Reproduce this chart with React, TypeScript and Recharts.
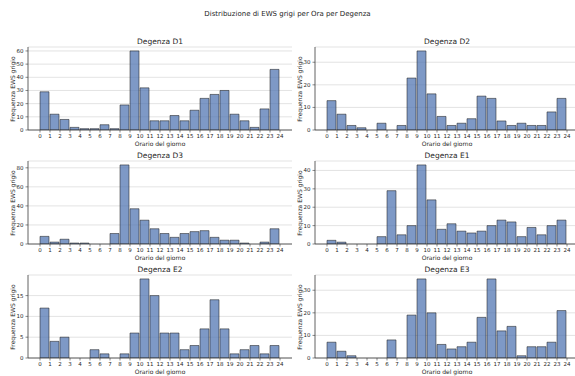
import React from "react";
import { BarChart, Bar, XAxis, YAxis, CartesianGrid } from "recharts";

const hourBins = [0, 1, 2, 3, 4, 5, 6, 7, 8, 9, 10, 11, 12, 13, 14, 15, 16, 17, 18, 19, 20, 21, 22, 23];
const hourTicks = [0, 1, 2, 3, 4, 5, 6, 7, 8, 9, 10, 11, 12, 13, 14, 15, 16, 17, 18, 19, 20, 21, 22, 23, 24];

const d1 = [29, 12, 8, 2, 1, 1, 4, 1, 19, 60, 32, 7, 7, 11, 7, 15, 24, 27, 30, 12, 7, 2, 16, 46];
const d2 = [13, 7, 2, 1, 0, 3, 0, 2, 23, 35, 16, 6, 2, 3, 5, 15, 14, 4, 2, 3, 2, 2, 8, 14];
const d3 = [8, 2, 5, 1, 1, 0, 0, 11, 83, 37, 25, 16, 11, 7, 11, 13, 14, 7, 4, 4, 1, 0, 2, 16];
const e1 = [2, 1, 0, 0, 0, 4, 29, 5, 10, 43, 24, 8, 11, 7, 6, 7, 10, 13, 12, 4, 9, 5, 10, 13];
const e2 = [12, 4, 5, 0, 0, 2, 1, 0, 1, 6, 19, 15, 6, 6, 2, 3, 7, 14, 7, 1, 2, 3, 1, 3];
const e3 = [7, 3, 1, 0, 0, 0, 8, 0, 19, 35, 20, 6, 4, 5, 7, 18, 35, 12, 14, 1, 5, 5, 7, 21];

const ticksD1 = [0, 10, 20, 30, 40, 50, 60];
const ticksD2 = [0, 10, 20, 30];
const ticksD3 = [0, 20, 40, 60, 80];
const ticksE1 = [0, 10, 20, 30, 40];
const ticksE2 = [0, 5, 10, 15];
const ticksE3 = [0, 10, 20, 30];

const FONT = "'DejaVu Sans', sans-serif";
const TXT = "#262626";
const FRAME = "#3a3a3a";

const PLOT_W = 264;
const PLOT_H = 83;
const Y_W = 28;
const TOP_M = 13;
const X_H = 18;

function Panel({
  title,
  values,
  yTicks,
  left,
  top,
}: {
  title: string;
  values: number[];
  yTicks: number[];
  left: number;
  top: number;
}) {
  const data = hourBins.map((h, i) => ({ x: h + 0.5, v: values[i] }));
  const w = Y_W + PLOT_W + 1;
  const h = TOP_M + PLOT_H + X_H;
  return (
    <div style={{ position: "absolute", left, top, width: w, height: h }}>
      <div
        style={{
          position: "absolute",
          left: Y_W,
          top: 3,
          width: PLOT_W,
          textAlign: "center",
          fontSize: 7.5,
          color: TXT,
          fontFamily: FONT,
          lineHeight: "9px",
        }}
      >
        {title}
      </div>
      {/* y label, rotated, centred on the plot area */}
      <div
        style={{
          position: "absolute",
          left: 12 - PLOT_H / 2,
          top: TOP_M + PLOT_H / 2 - 4,
          width: PLOT_H,
          height: 8,
          lineHeight: "8px",
          textAlign: "center",
          fontSize: 6,
          color: TXT,
          fontFamily: FONT,
          transform: "rotate(-90deg)",
          whiteSpace: "nowrap",
        }}
      >
        Frequenza EWS grigio
      </div>
      <BarChart
        width={w}
        height={h}
        data={data}
        margin={{ top: TOP_M, right: 1, bottom: 0, left: 0 }}
        barCategoryGap={0}
        barGap={0}
      >
        <CartesianGrid vertical={false} stroke="#d0d0d0" strokeWidth={0.6} />
        <XAxis
          dataKey="x"
          type="number"
          domain={[-1.2, 25.2]}
          ticks={hourTicks}
          interval={0}
          height={X_H}
          tickSize={2.5}
          tick={{ fontSize: 5.5, fill: TXT, fontFamily: FONT }}
          tickLine={{ stroke: FRAME, strokeWidth: 0.6 }}
          axisLine={{ stroke: FRAME, strokeWidth: 0.8 }}
          allowDataOverflow
          label={{
            value: "Orario del giorno",
            position: "insideBottom",
            offset: 2,
            fontSize: 6,
            fill: TXT,
            fontFamily: FONT,
          }}
        />
        <XAxis
          xAxisId="top"
          orientation="top"
          type="number"
          domain={[-1.2, 25.2]}
          height={0}
          tick={false}
          tickLine={false}
          axisLine={{ stroke: FRAME, strokeWidth: 0.8 }}
        />
        <YAxis
          type="number"
          width={Y_W}
          domain={[0, (m: number) => m * 1.05]}
          ticks={yTicks}
          interval={0}
          allowDataOverflow
          tickSize={2.5}
          tick={{ fontSize: 5.5, fill: TXT, fontFamily: FONT }}
          tickLine={{ stroke: FRAME, strokeWidth: 0.6 }}
          axisLine={{ stroke: FRAME, strokeWidth: 0.8 }}
        />
        <YAxis
          yAxisId="right"
          orientation="right"
          width={0}
          tick={false}
          tickLine={false}
          axisLine={{ stroke: FRAME, strokeWidth: 0.8 }}
        />
        <Bar
          dataKey="v"
          fill="#4C72B0"
          fillOpacity={0.72}
          stroke="#1a1a1a"
          strokeOpacity={0.75}
          strokeWidth={0.7}
          barSize={PLOT_W / 26.4}
          isAnimationActive={false}
        />
      </BarChart>
    </div>
  );
}

export default function App() {
  return (
    <div
      style={{
        position: "fixed",
        left: 0,
        top: 0,
        width: 575,
        height: 376,
        overflow: "hidden",
        background: "#fff",
        fontFamily: FONT,
      }}
    >
      <div
        style={{
          position: "absolute",
          left: 0,
          top: 10,
          width: 575,
          textAlign: "center",
          fontSize: 7,
          color: TXT,
          lineHeight: "9px",
        }}
      >
        Distribuzione di EWS grigi per Ora per Degenza
      </div>
      <Panel title="Degenza D1" values={d1} yTicks={ticksD1} left={0} top={34} />
      <Panel title="Degenza D2" values={d2} yTicks={ticksD2} left={287} top={34} />
      <Panel title="Degenza D3" values={d3} yTicks={ticksD3} left={0} top={148} />
      <Panel title="Degenza E1" values={e1} yTicks={ticksE1} left={287} top={148} />
      <Panel title="Degenza E2" values={e2} yTicks={ticksE2} left={0} top={262} />
      <Panel title="Degenza E3" values={e3} yTicks={ticksE3} left={287} top={262} />
    </div>
  );
}
